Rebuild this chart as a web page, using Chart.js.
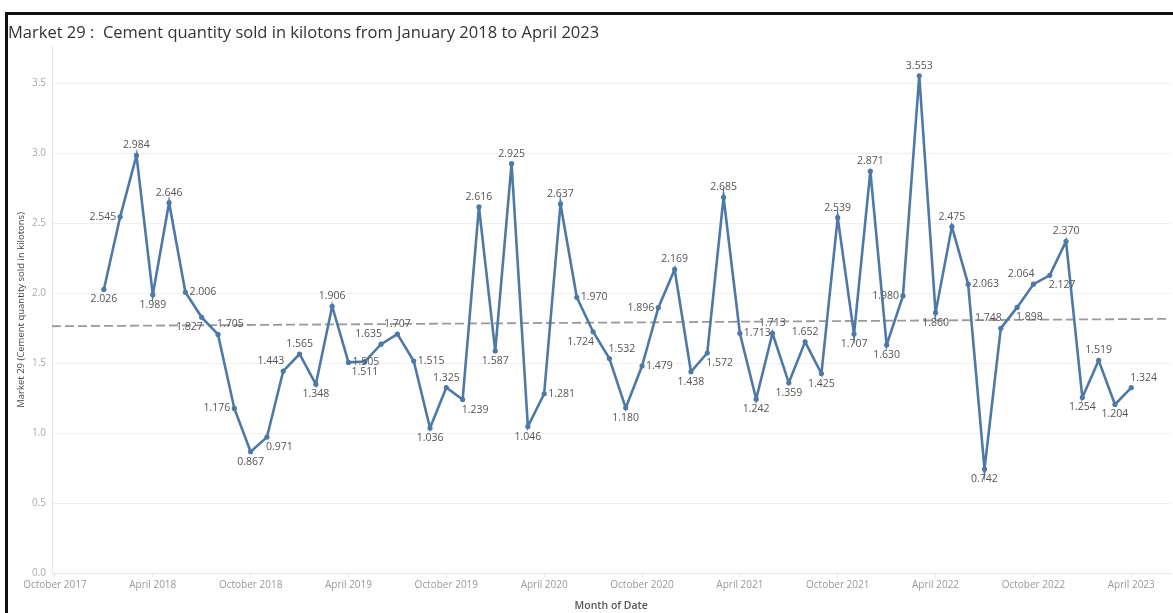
<!DOCTYPE html>
<html>
<head>
<meta charset="utf-8">
<script src="https://cdn.jsdelivr.net/npm/chart.js@4/dist/chart.umd.min.js"></script>
<style>
  body { margin: 0; background: #fff; }
  #frame {
    position: absolute; left: 5px; top: 12px;
    width: 1165px; height: 598px;
    border-left: 3px solid #111; border-top: 3px solid #111;
  }
  #thecanvas { position: absolute; left: 0; top: 0; }
</style>
</head>
<body>
<div id="frame"><canvas id="thecanvas" width="1165" height="598"></canvas></div>
<script>
// months counted from January 2018 (= 0)
const monthvals = [
  2.026, 2.545, 2.984, 1.989, 2.646, 2.006, 1.827, 1.705, 1.176, 0.867, 0.971, 1.443,
  1.565, 1.348, 1.906, 1.505, 1.511, 1.635, 1.707, 1.515, 1.036, 1.325, 1.239, 2.616,
  1.587, 2.925, 1.046, 1.281, 2.637, 1.970, 1.724, 1.532, 1.180, 1.479, 1.896, 2.169,
  1.438, 1.572, 2.685, 1.713, 1.242, 1.713, 1.359, 1.652, 1.425, 2.539, 1.707, 2.871,
  1.630, 1.980, 3.553, 1.860, 2.475, 2.063, 0.742, 1.748, 1.898, 2.064, 2.127, 2.370,
  1.254, 1.519, 1.204, 1.324
];
const ticklabels = [
  'October 2017', 'April 2018', 'October 2018', 'April 2019', 'October 2019', 'April 2020',
  'October 2020', 'April 2021', 'October 2021', 'April 2022', 'October 2022', 'April 2023'
];
const firsttick = -3;   // October 2017
const trendends = [1.763, 1.816];

// where each value label sits (style only)
const labelspot = [
  'b','l','t','b','t','r','bl','tr','l','b','br','tl',
  't','b','t','r','b','tl','t','r','b','t','br','t',
  'b','t','b','r','t','r','bl','tr','b','r','l','t',
  'b','br','t','r','b','t','b','t','b','t','b','t',
  'b','l','t','b','t','r','b','tl','br','tl','br','t',
  'b','t','b','tr'
];

const xmin = -3.18, xmax = 65.4;
const blue = '#4e79a7';

const points = monthvals.map(function (v, i) { return { x: i, y: v }; });

const labelplugin = {
  id: 'valuelabels',
  afterDatasetsDraw(chart) {
    const ctx = chart.ctx;
    const meta = chart.getDatasetMeta(0);
    ctx.save();
    ctx.font = '10.5px "Open Sans"';
    ctx.fillStyle = '#555';
    ctx.textBaseline = 'middle';
    meta.data.forEach(function (pt, i) {
      const txt = monthvals[i].toFixed(3);
      const spot = labelspot[i];
      let x = pt.x, y = pt.y;
      if (spot === 't') { ctx.textAlign = 'center'; y -= 10; }
      else if (spot === 'b') { ctx.textAlign = 'center'; y += 10; }
      else if (spot === 'l') { ctx.textAlign = 'right'; x -= 4; }
      else if (spot === 'r') { ctx.textAlign = 'left'; x += 4; }
      else if (spot === 'tr') { ctx.textAlign = 'left'; x -= 1; y -= 10; }
      else if (spot === 'tl') { ctx.textAlign = 'right'; x += 1; y -= 10; }
      else if (spot === 'br') { ctx.textAlign = 'left'; x -= 1; y += 10; }
      else if (spot === 'bl') { ctx.textAlign = 'right'; x += 1; y += 10; }
      ctx.fillText(txt, x, y);
    });
    ctx.restore();
  }
};

const ctx = document.getElementById('thecanvas');
new Chart(ctx, {
  type: 'line',
  data: {
    datasets: [{
      data: points,
      borderColor: blue,
      backgroundColor: blue,
      borderWidth: 2.6,
      pointRadius: 2.6,
      pointBorderWidth: 0,
      pointHoverRadius: 2.6,
      tension: 0,
      order: 1
    }, {
      data: [{ x: xmin, y: trendends[0] }, { x: xmax, y: trendends[1] }],
      borderColor: '#9a9a9a',
      borderWidth: 1.8,
      borderDash: [9, 4],
      pointRadius: 0,
      order: 2
    }]
  },
  options: {
    responsive: false,
    animation: false,
    layout: { padding: 0 },
    plugins: {
      legend: { display: false },
      tooltip: { enabled: false },
      title: {
        display: true,
        text: 'Market 29 :  Cement quantity sold in kilotons from January 2018 to April 2023',
        align: 'start',
        color: '#333',
        font: { family: 'Open Sans', size: 16.5, weight: 'normal' },
        padding: { top: 8, bottom: 4 }
      }
    },
    scales: {
      x: {
        type: 'linear',
        min: xmin,
        max: xmax,
        afterBuildTicks: function (scale) {
          scale.ticks = ticklabels.map(function (t, i) { return { value: firsttick + 6 * i }; });
        },
        afterFit: function (scale) { scale.height = 40; },
        ticks: {
          color: '#999',
          font: { family: 'Open Sans', size: 10 },
          padding: 2,
          maxRotation: 0,
          autoSkip: false,
          callback: function (v) {
            const i = Math.round((v - firsttick) / 6);
            return ticklabels[i];
          }
        },
        grid: { drawOnChartArea: false, tickLength: 4, color: '#e2e2e2' },
        border: { color: '#e6e6e6' },
        title: {
          display: true,
          text: 'Month of Date',
          color: '#555',
          font: { family: 'Open Sans', size: 10.5, weight: '600' },
          padding: { top: 0, bottom: 1 }
        }
      },
      y: {
        min: 0,
        max: 3.76,
        afterFit: function (scale) { scale.width = 44; },
        ticks: {
          stepSize: 0.5,
          includeBounds: false,
          color: '#aaa',
          font: { family: 'Open Sans', size: 10 },
          padding: 6,
          callback: function (v) { return v.toFixed(1); }
        },
        grid: { color: '#f0f0f0', drawTicks: false },
        border: { color: '#e6e6e6' },
        title: {
          display: true,
          text: 'Market 29 (Cement quantity sold in kilotons)',
          color: '#444',
          font: { family: 'Open Sans', size: 9.5 },
          padding: { top: 8, bottom: 0 }
        }
      }
    }
  },
  plugins: [labelplugin]
});
</script>
</body>
</html>
